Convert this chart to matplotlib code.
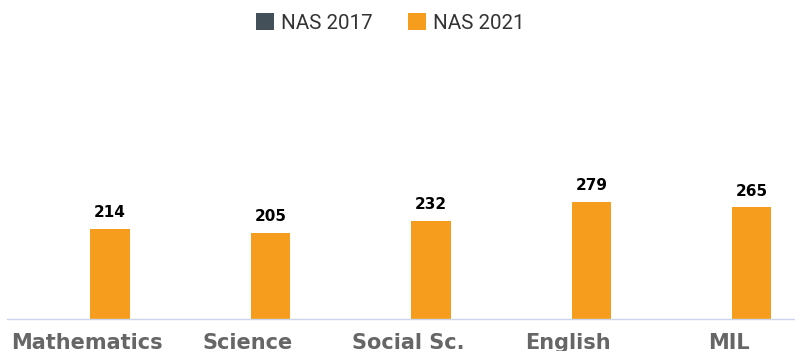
import matplotlib.pyplot as plt
from matplotlib.patches import Patch
import numpy as np

# subject-wise average scores
subjects = ['Mathematics', 'Science', 'Social Sc.', 'English', 'MIL']
nas_2021 = [214, 205, 232, 279, 265]
series_names = ['NAS 2017', 'NAS 2021']
colors = ['#434f59', '#f79d1e']

fig = plt.figure(figsize=(7.95, 3.51), dpi=100)
# axes runs a bit past the right edge of the figure
ax = fig.add_axes([7 / 795, 1 - 319 / 351, 802 / 795, 259 / 351])

x = np.arange(len(subjects))
w = 0.245
bars = ax.bar(x + 0.143, nas_2021, width=w, color=colors[1], zorder=2)
for b, v in zip(bars, nas_2021):
    ax.text(b.get_x() + b.get_width() / 2, v + 21, str(v), ha='center', va='bottom',
            fontsize=11, fontweight='bold', color='black')

ax.set_xlim(-0.5, len(subjects) - 0.5)
ax.set_ylim(0, 615)
ax.set_yticks([])
ax.set_xticks(x)
ax.set_xticklabels(subjects, fontsize=15, fontweight='bold', color='#666666')
ax.tick_params(axis='x', length=0, pad=10)
for s in ['top', 'right', 'left']:
    ax.spines[s].set_visible(False)
ax.spines['bottom'].set_color('#ccd6eb')
ax.spines['bottom'].set_linewidth(1)

handles = [Patch(facecolor=c, edgecolor='none') for c in colors]
leg = fig.legend(handles, series_names, loc='center', bbox_to_anchor=(0.491, 1 - 23 / 351),
                 ncol=2, frameon=False, prop={'family': 'Roboto', 'size': 14.8},
                 handlelength=0.88, handleheight=0.88, handletextpad=0.35,
                 columnspacing=1.7, borderpad=0)
for t in leg.get_texts():
    t.set_color('#333333')

fig.savefig('out.png', dpi=100)
